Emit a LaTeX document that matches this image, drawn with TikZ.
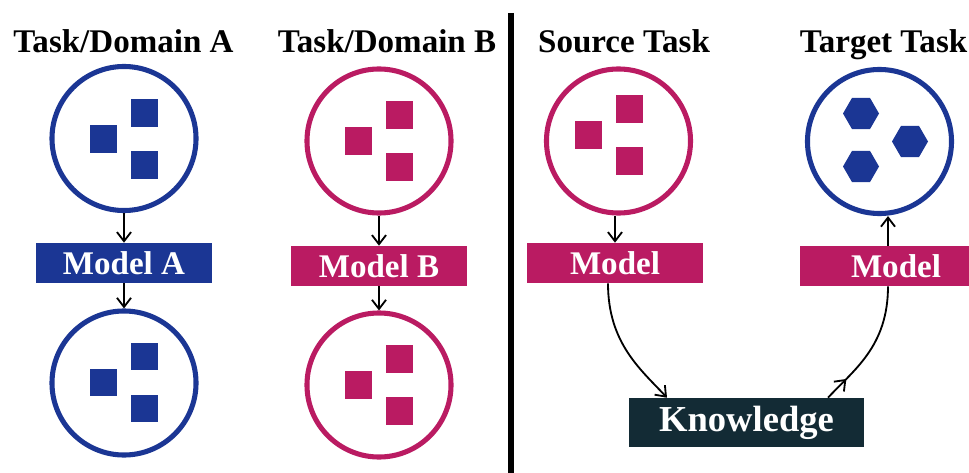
\documentclass[tikz,border=0pt]{standalone}
\usepackage{fontspec}
\setmainfont{Liberation Serif}
\usepackage{xcolor}
\usepackage{tikz}
\usetikzlibrary{arrows.meta,positioning,calc,shapes.geometric,decorations.markings}

\definecolor{taskblue}{HTML}{1B3694}
\definecolor{taskpink}{HTML}{BA1B62}
\definecolor{knowdark}{HTML}{132B35}

\begin{document}
\begin{tikzpicture}[
  x=0.025cm,
  y=-0.025cm,
  >={Straight Barb[length=6.5pt,width=10pt]},
  title/.style={font=\fontsize{23.5}{28}\selectfont\bfseries, anchor=base},
  pool/.style={circle, draw=#1, line width=3.6pt, minimum size=3.6cm, inner sep=0pt},
  chip/.style={rectangle, minimum size=0.675cm, inner sep=0pt, draw=none},
  hexa/.style={regular polygon, regular polygon sides=6, minimum size=0.9cm, inner sep=0pt, fill=taskblue},
  model/.style={rectangle, fill=#1, text=white, minimum width=4.4cm, minimum height=1cm,
    inner sep=0pt, font=\fontsize{23.5}{28}\selectfont\bfseries},
  flow/.style={draw=black, line width=1.3pt},
  divider/.style={draw=black, line width=4.3pt}
]
% Canvas in pixels: 969 x 473, y grows downward.
\useasboundingbox (0,0) rectangle (969,473);

% Column titles.
\node[title] (tA) at (123.5,53) {Task/Domain A};
\node[title] (tB) at (387,53) {Task/Domain B};
\node[title] (tS) at (624,53) {Source Task};
\node[title] (tT) at (883.5,53) {Target Task};

% Separate training (left) and transfer (right).
\draw[divider] (511,13) -- (511,473);

% Data pools.
\node[pool=taskblue] (cA1) at (124,138.5) {};
\node[pool=taskpink] (cB1) at (379,141) {};
\node[pool=taskblue] (cA2) at (124,383) {};
\node[pool=taskpink] (cB2) at (379,385) {};
\node[pool=taskpink] (cS) at (618.5,141) {};
\node[pool=taskblue] (cT) at (879.5,141.5) {};

% Square samples, three per pool.
\foreach \cx/\cy/\col [count=\i] in {124/139/taskblue, 379/141/taskpink, 124/382.5/taskblue, 379/385/taskpink, 608.5/135/taskpink} {
  \foreach \dx/\dy [count=\j] in {-20.5/0, 20.5/-26, 20.5/26}
    \node[chip, fill=\col] (sq\i\j) at (\cx+\dx,\cy+\dy) {};
}

% Hexagon samples of the target task.
\foreach \hx/\hy [count=\j] in {861/113.5, 910/141.5, 861/166.5}
  \node[hexa] (hx\j) at (\hx,\hy) {};

% Models.
\node[model=taskblue] (mA) at (124,263) {Model A};
\node[model=taskpink] (mB) at (379,266) {Model B};
\node[model=taskpink] (mS) at (615,263) {Model};
\node[model=taskpink, minimum width=4.8cm] (mT) at (896,266) {Model};
\node[model=knowdark, minimum width=5.875cm, minimum height=1.225cm,
  font=\fontsize{26}{30}\selectfont\bfseries] (kn) at (746.5,422.5) {Knowledge};

% Independent pipelines.
\draw[flow, ->] (cA1.south) -- (mA.north);
\draw[flow, ->] (mA.south) -- (cA2.north);
\draw[flow, ->] (cB1.south) -- (mB.north);
\draw[flow, ->] (mB.south) -- (cB2.north);

% Transfer pipeline.
\draw[flow, ->] (cS.south -| mS.north) -- (mS.north);
\draw[flow, ->] ($(mS.south)+(-7,0)$) .. controls +(0,60) and +(-26,-28) .. ($(kn.north)+(-79.5,0)$);
\draw[flow, postaction={decorate},
  decoration={markings, mark=at position 0.2 with {\arrow{>}}}]
  ($(kn.north)+(81.5,0)$) .. controls +(26,-28) and +(0,60) .. ($(mT.south)+(-8,0)$);
\draw[flow, ->] ($(mT.north)+(-8,0)$) -- ($(cT.south -| mT.north)+(-8,0)$);
\end{tikzpicture}
\end{document}
